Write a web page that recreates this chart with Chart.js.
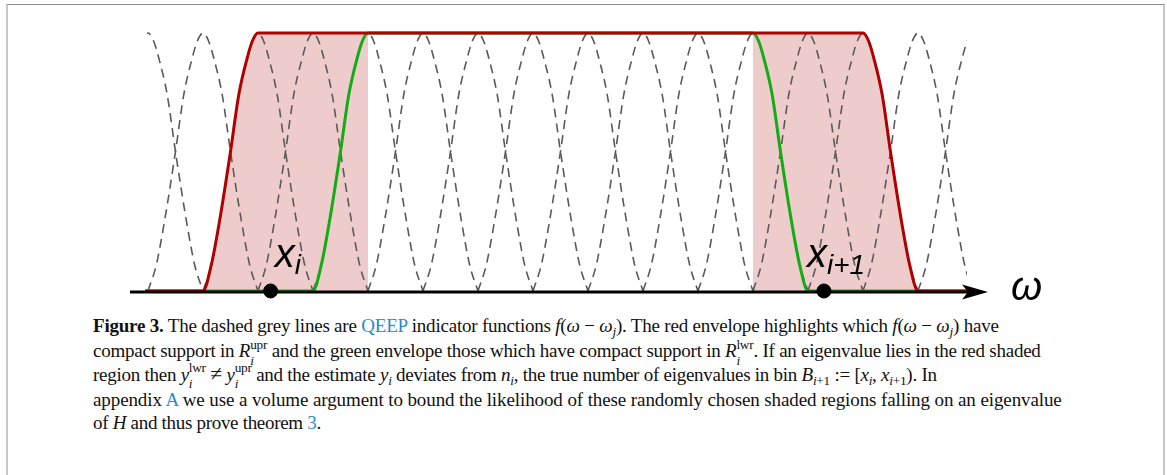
<!DOCTYPE html>
<html>
<head>
<meta charset="utf-8">
<script src="https://cdn.jsdelivr.net/npm/chart.js@4/dist/chart.umd.min.js"></script>
<style>
  body { margin: 0; background: #fff; width: 1167px; height: 475px; overflow: hidden; position: relative; }
  #frame { position: absolute; left: 6px; top: 4px; width: 1155px; height: 480px;
           border-top: 1px solid #8a8a8a; border-left: 2px solid #c8c8c8; border-right: 2px solid #c8c8c8; }
  #chart { position: absolute; left: 0; top: 0; }
  #caption { position: absolute; left: 93px; top: 314px; font-family: "Liberation Serif", serif;
             font-size: 19px; line-height: 23.3px; color: #111; white-space: nowrap; }
  #caption b { font-weight: bold; }
  .l1 { letter-spacing: -0.21px; }
  .l2 { letter-spacing: -0.24px; }
  .l3 { letter-spacing: -0.26px; }
  .l4 { letter-spacing: -0.1px; }
  .l5 { letter-spacing: -0.3px; }
  .blue { color: #2a8bc8; }
  .sb { font-size: 0.7em; position: relative; top: 0.3em; font-style: italic; }
  .ss { display: inline-block; position: relative; font-size: 0.7em; line-height: 1; }
  .ss .up { position: relative; top: -0.65em; }
  .ss .dn { position: absolute; left: 0; top: 0.55em; font-style: italic; }
  .ne { font-size: 1.15em; line-height: 0; }
</style>
</head>
<body>
<div id="frame"></div>
<canvas id="chart" width="1167" height="310"></canvas>
<div id="caption">
<span class="l1"><b>Figure 3.</b> The dashed grey lines are <span class="blue">QEEP</span> indicator functions <i>f</i>(<i>ω</i> − <i>ω</i><span class="sb">j</span>). The red envelope highlights which <i>f</i>(<i>ω</i> − <i>ω</i><span class="sb">j</span>) have</span><br>
<span class="l2">compact support in <i>R</i><span class="ss"><span class="up">upr</span><span class="dn">i</span></span> and the green envelope those which have compact support in <i>R</i><span class="ss"><span class="up">lwr</span><span class="dn">i</span></span>. If an eigenvalue lies in the red shaded</span><br>
<span class="l3">region then <i>y</i><span class="ss"><span class="up">lwr</span><span class="dn">i</span></span> <span class="ne">≠</span> <i>y</i><span class="ss"><span class="up">upr</span><span class="dn">i</span></span> and the estimate <i>y</i><span class="sb">i</span> deviates from <i>n</i><span class="sb">i</span>, the true number of eigenvalues in bin <i>B</i><span class="sb">i</span><span class="sb" style="font-style:normal">+1</span> := [<i>x</i><span class="sb">i</span>, <i>x</i><span class="sb">i</span><span class="sb" style="font-style:normal">+1</span>). In</span><br>
<span class="l4">appendix <span class="blue">A</span> we use a volume argument to bound the likelihood of these randomly chosen shaded regions falling on an eigenvalue</span><br>
<span class="l5">of <i>H</i> and thus prove theorem <span class="blue">3</span>.</span>
</div>
<script>
// peaks of the dashed indicator functions f(w - w_j), in bump units
const bumpCenters = [0, 1, 2, 3, 4, 5, 6, 7, 8, 9, 10, 11, 12, 13, 14, 15];
// shape of one bump (offset from its peak -> height)
const bumpOffsets = [-1, -0.85, -0.7, -0.5, -0.35, -0.2, -0.1, 0, 0.1, 0.2, 0.35, 0.5, 0.7, 0.85, 1];
const bumpShape   = [0, 0.1, 0.27, 0.54, 0.76, 0.9, 0.97, 1, 0.97, 0.9, 0.76, 0.54, 0.27, 0.1, 0];

// red envelope (upper), green envelope (lower)
const redX   = [-0.05, 1, 1.15, 1.3, 1.5, 1.65, 1.8, 1.9, 2, 13, 13.1, 13.2, 13.35, 13.5, 13.7, 13.85, 14, 14.9];
const redY   = [0, 0, 0.1, 0.27, 0.54, 0.76, 0.9, 0.97, 1, 1, 0.97, 0.9, 0.76, 0.54, 0.27, 0.1, 0, 0];
const greenX = [-0.05, 3, 3.15, 3.3, 3.5, 3.65, 3.8, 3.9, 4, 11, 11.1, 11.2, 11.35, 11.5, 11.7, 11.85, 12, 14.9];
const greenY = [0, 0, 0.1, 0.27, 0.54, 0.76, 0.9, 0.97, 1, 1, 0.97, 0.9, 0.76, 0.54, 0.27, 0.1, 0, 0];

// shaded regions
const shadeLeftX  = [1, 1.15, 1.3, 1.5, 1.65, 1.8, 1.9, 2, 4];
const shadeLeftY  = [0, 0.1, 0.27, 0.54, 0.76, 0.9, 0.97, 1, 1];
const shadeRightX = [11, 13, 13.1, 13.2, 13.35, 13.5, 13.7, 13.85, 14];
const shadeRightY = [1, 1, 0.97, 0.9, 0.76, 0.54, 0.27, 0.1, 0];

// bin edges on the axis
const markX = [2.23, 12.29];
const markLabels = [['x', 'i'], ['x', 'i+1']];

const pts = (xs, ys) => xs.map((x, i) => ({x: x, y: ys[i]}));

const dashed = bumpCenters.map(c => ({
    label: 'f' + c,
    data: bumpOffsets.map((o, k) => ({x: c + o, y: bumpShape[k]})),
    borderColor: '#5a5a5a',
    borderWidth: 1.6,
    borderDash: [9, 6],
    pointRadius: 0,
    fill: false,
    cubicInterpolationMode: 'monotone',
    clip: {left: -17, right: -21, top: 10, bottom: 10},
    order: 3
}));

const decor = {
    id: 'decor',
    afterDatasetDraw(chart, args) {
        if (chart.data.datasets[args.index].label !== 'red') return;
        const {ctx, chartArea} = chart;
        const y0 = chart.scales.y.getPixelForValue(0) + 1;
        const tip = chartArea.right;
        ctx.save();
        ctx.strokeStyle = '#000';
        ctx.lineWidth = 3;
        ctx.beginPath();
        ctx.moveTo(chartArea.left, y0);
        ctx.lineTo(tip - 18, y0);
        ctx.stroke();
        ctx.fillStyle = '#000';
        ctx.beginPath();
        ctx.moveTo(tip, y0);
        ctx.lineTo(tip - 26, y0 - 7.5);
        ctx.lineTo(tip - 20, y0);
        ctx.lineTo(tip - 26, y0 + 7.5);
        ctx.closePath();
        ctx.fill();
        ctx.restore();
    },
    afterDraw(chart) {
        const {ctx, chartArea} = chart;
        const xs = chart.scales.x, ys = chart.scales.y;
        const y0 = ys.getPixelForValue(0);
        const offs = [4, -17];
        ctx.save();
        ctx.fillStyle = '#000';
        ctx.textBaseline = 'alphabetic';
        markX.forEach((v, i) => {
            const px = xs.getPixelForValue(v) + offs[i];
            ctx.font = 'italic 40px "Liberation Sans", sans-serif';
            ctx.fillText(markLabels[i][0], px, y0 - 24);
            const w = ctx.measureText(markLabels[i][0]).width;
            ctx.font = 'italic 28px "Liberation Sans", sans-serif';
            ctx.fillText(markLabels[i][1], px + w, y0 - 17);
        });
        ctx.font = 'italic 40px "Liberation Sans", sans-serif';
        ctx.fillText('ω', chartArea.right + 23, y0 + 9);
        ctx.restore();
    }
};

new Chart(document.getElementById('chart'), {
    type: 'line',
    data: {
        datasets: [{
            label: 'marks',
            data: markX.map(x => ({x: x, y: 0})),
            showLine: false,
            pointRadius: 7,
            pointBackgroundColor: '#000',
            pointBorderColor: '#000',
            clip: false,
            order: 0
        }, {
            label: 'red',
            data: pts(redX, redY),
            borderColor: '#b00000',
            borderWidth: 3,
            pointRadius: 0,
            fill: false,
            cubicInterpolationMode: 'monotone',
            clip: false,
            order: 1
        }, {
            label: 'green',
            data: pts(greenX, greenY),
            borderColor: '#14ac14',
            borderWidth: 3,
            pointRadius: 0,
            fill: false,
            cubicInterpolationMode: 'monotone',
            clip: false,
            order: 2
        }].concat(dashed, [{
            label: 'shadeR',
            data: pts(shadeRightX, shadeRightY),
            borderWidth: 0,
            backgroundColor: '#efcccc',
            pointRadius: 0,
            fill: 'origin',
            cubicInterpolationMode: 'monotone',
            order: 4
        }, {
            label: 'shadeL',
            data: pts(shadeLeftX, shadeLeftY),
            borderWidth: 0,
            backgroundColor: '#efcccc',
            pointRadius: 0,
            fill: 'origin',
            cubicInterpolationMode: 'monotone',
            order: 5
        }])
    },
    options: {
        responsive: false,
        animation: false,
        layout: {padding: {left: 130, right: 179, top: 33, bottom: 19}},
        plugins: {legend: {display: false}, tooltip: {enabled: false}},
        scales: {
            x: {type: 'linear', min: -0.327, max: 15.273, display: false},
            y: {min: 0, max: 1, display: false}
        }
    },
    plugins: [decor]
});
</script>
</body>
</html>
